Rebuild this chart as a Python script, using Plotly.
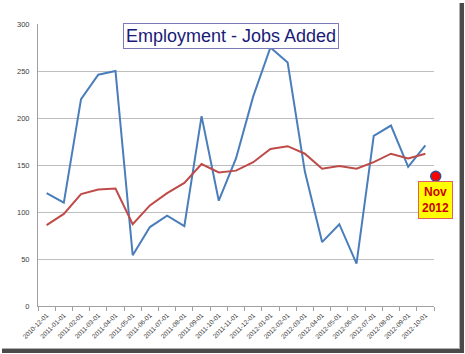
import plotly.graph_objects as go

categories = ["2010-12-01", "2011-01-01", "2011-02-01", "2011-03-01", "2011-04-01", "2011-05-01",
              "2011-06-01", "2011-07-01", "2011-08-01", "2011-09-01", "2011-10-01", "2011-11-01",
              "2011-12-01", "2012-01-01", "2012-02-01", "2012-03-01", "2012-04-01", "2012-05-01",
              "2012-06-01", "2012-07-01", "2012-08-01", "2012-09-01", "2012-10-01"]
jobs_added = [120, 110, 220, 246, 250, 54, 84, 96, 85, 202, 112, 157, 223, 275, 259, 143,
              68, 87, 45, 181, 192, 148, 171]
moving_avg = [86, 98, 119, 124, 125, 87, 107, 120, 131, 151, 142, 144, 153, 167, 170, 162,
              146, 149, 146, 153, 162, 157, 162]
nov_label = "Nov<br>2012"
nov_value = 138
nov_pos = 22.6
y_ticks = [0, 50, 100, 150, 200, 250, 300]

W, H = 465, 354
L, T, B = 38, 24, 48
AXIS_RIGHT = 434          # right end of the plotted axis (px)
PAPER_RIGHT = 460         # right end of paper (px)
R = W - PAPER_RIGHT
PW, PH = PAPER_RIGHT - L, H - T - B
n = len(categories)
unit = (AXIS_RIGHT - L) / n  # px per category
x2_max = -0.5 + PW / unit


def px(x):
    return (x - L) / PW


def py(y):
    return (H - B - y) / PH


xs = list(range(n))

fig = go.Figure()
fig.add_trace(go.Scatter(x=xs, y=jobs_added, mode="lines",
                         line=dict(color="#4A7EBB", width=2), showlegend=False))
fig.add_trace(go.Scatter(x=xs, y=moving_avg, mode="lines",
                         line=dict(color="#BE4B48", width=2), showlegend=False))
fig.add_trace(go.Scatter(x=[nov_pos], y=[nov_value], mode="markers", xaxis="x2", yaxis="y2",
                         marker=dict(color="#FF0000", size=10,
                                     line=dict(color="#2F4F8F", width=1.5)),
                         showlegend=False))

fig.add_annotation(x=nov_pos, y=113, xref="x2", yref="y2", text="<b>" + nov_label + "</b>",
                   showarrow=False, font=dict(family="Arial, Liberation Sans", size=12, color="#CC0000"),
                   bgcolor="#FFFF00", bordercolor="#E06060", borderwidth=1, borderpad=3)

fig.add_annotation(x=px(230.5), y=py(23), xref="paper", yref="paper",
                   text="Employment - Jobs Added", showarrow=False,
                   font=dict(family="Arial, Liberation Sans", size=18, color="#1A1A78"),
                   bgcolor="#FFFFFF", bordercolor="#7A7AB8", borderwidth=1, borderpad=2)

# drop shadow of chart frame
fig.add_shape(type="rect", xref="paper", yref="paper", x0=px(459), x1=px(460), y0=py(349), y1=py(3),
              line=dict(width=0), fillcolor="#B0B0B0", layer="below")
fig.add_shape(type="rect", xref="paper", yref="paper", x0=px(460), x1=px(464), y0=py(352), y1=py(3),
              line=dict(width=0), fillcolor="#4A4A4A", layer="below")
fig.add_shape(type="rect", xref="paper", yref="paper", x0=px(2), x1=px(460), y0=py(349), y1=py(348),
              line=dict(width=0), fillcolor="#B0B0B0", layer="below")
fig.add_shape(type="rect", xref="paper", yref="paper", x0=px(2), x1=px(464), y0=py(353), y1=py(349),
              line=dict(width=0), fillcolor="#4A4A4A", layer="below")

fig.update_layout(
    width=W, height=H,
    margin=dict(l=L, r=R, t=T, b=B, pad=0),
    paper_bgcolor="#FFFFFF", plot_bgcolor="rgba(0,0,0,0)",
    font=dict(family="Arial, Liberation Sans", color="#404040"),
    xaxis=dict(domain=[0, (AXIS_RIGHT - L) / PW], range=[-0.5, n - 0.5], tickvals=xs,
               ticktext=categories,
               tickangle=-45, tickfont=dict(size=6.5, color="#404040"), ticks="",
               showgrid=False, zeroline=False, showline=True, linecolor="#A0A0A0", linewidth=1,
               minor=dict(tickvals=[i - 0.5 for i in range(n + 1)],
                          ticks="outside", ticklen=4, tickcolor="#A0A0A0", showgrid=False),
               ticklabelstandoff=2, fixedrange=True),
    yaxis=dict(range=[0, 300], tickvals=y_ticks, tickfont=dict(size=7.5, color="#404040"),
               showgrid=True, gridcolor="#BEBEBE", gridwidth=1, zeroline=False,
               showline=True, linecolor="#A0A0A0", linewidth=1, ticks="",
               ticklabelstandoff=6, fixedrange=True),
    xaxis2=dict(domain=[0, 1], range=[-0.5, x2_max], anchor="y2", visible=False,
                showgrid=False, zeroline=False, fixedrange=True),
    yaxis2=dict(domain=[0, 1], range=[0, 300], anchor="x2", visible=False,
                showgrid=False, zeroline=False, fixedrange=True),
)

fig.write_html("out.html")
